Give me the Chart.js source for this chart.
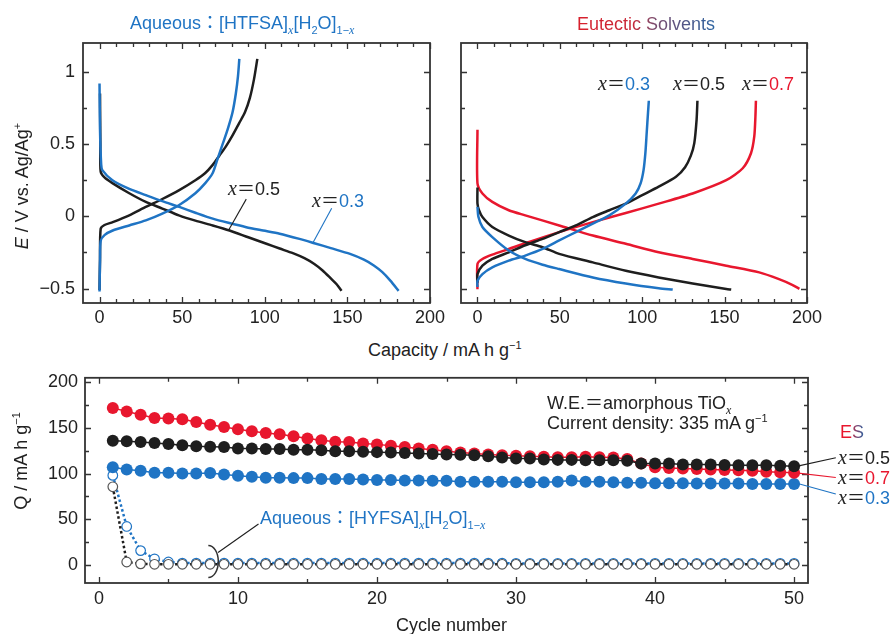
<!DOCTYPE html>
<html>
<head>
<meta charset="utf-8">
<script src="https://cdn.jsdelivr.net/npm/chart.js@4.4.1/dist/chart.umd.min.js"></script>
<style>
  body { margin: 0; background: #fff; }
  #wrap { position: relative; width: 894px; height: 634px; overflow: hidden; font-family: "Liberation Sans", Arial, sans-serif; color: #222; }
  canvas { position: absolute; }
  .t { position: absolute; white-space: nowrap; font-size: 18px; line-height: 1; transform: translateY(-50%); }
  .rot { transform: translate(-50%, -50%) rotate(-90deg); }
  .v { font-family: "Liberation Serif", serif; font-style: italic; font-size: 20px; }
  .eq { font-family: "Noto Sans CJK JP", sans-serif; }
  .sub { font-size: 11px; position: relative; top: 5px; }
  .sup { font-size: 11px; position: relative; top: -7px; }
  .sv { font-family: "Liberation Serif", serif; font-style: italic; font-size: 12px; }
  .blue { color: #1f74c4; }
  .red { color: #e8172e; }
  .es { background: linear-gradient(90deg, #d8202c 0%, #c82838 40%, #7a4a6c 56%, #2a62a0 100%);
        -webkit-background-clip: text; background-clip: text; color: transparent; }
  .es2 { background: linear-gradient(90deg, #b03050 0%, #2a62a0 100%);
        -webkit-background-clip: text; background-clip: text; color: transparent; }
</style>
</head>
<body>
<div id="wrap">
  <canvas id="capL" width="450" height="335" style="left:0;top:0"></canvas>
  <canvas id="capR" width="444" height="335" style="left:450px;top:0"></canvas>
  <canvas id="cyc" width="894" height="274" style="left:0;top:360px"></canvas>

  <div class="t blue" style="left:130px;top:22px">Aqueous<span class="eq">：</span>[HTFSA]<span class="sub sv">x</span>[H<span class="sub">2</span>O]<span class="sub">1−<span class="sv">x</span></span></div>
  <div class="t es" style="left:577px;top:24px">Eutectic Solvents</div>

  <div class="t" style="left:228px;top:188px"><span class="v">x</span><span class="eq">＝</span>0.5</div>
  <div class="t" style="left:312px;top:200px"><span class="v">x</span><span class="eq">＝</span><span class="blue">0.3</span></div>
  <div class="t" style="left:598px;top:83px"><span class="v">x</span><span class="eq">＝</span><span class="blue">0.3</span></div>
  <div class="t" style="left:673px;top:83px"><span class="v">x</span><span class="eq">＝</span>0.5</div>
  <div class="t" style="left:742px;top:83px"><span class="v">x</span><span class="eq">＝</span><span class="red">0.7</span></div>

  <div class="t rot" style="left:22px;top:186px"><i>E</i> / V vs. Ag/Ag<span class="sup">+</span></div>
  <div class="t" style="left:368px;top:350px">Capacity / mA h g<span class="sup">−1</span></div>

  <div class="t rot" style="left:21px;top:461px">Q / mA h g<span class="sup">−1</span></div>
  <div class="t" style="left:396px;top:625px">Cycle number</div>

  <div class="t" style="left:547px;top:402px">W.E.<span class="eq">＝</span>amorphous TiO<span class="sub sv">x</span></div>
  <div class="t" style="left:547px;top:423px">Current density: 335 mA g<span class="sup">−1</span></div>
  <div class="t blue" style="left:260px;top:517px">Aqueous<span class="eq">：</span>[HYFSA]<span class="sub sv">x</span>[H<span class="sub">2</span>O]<span class="sub">1−<span class="sv">x</span></span></div>

  <div class="t" style="left:840px;top:432px"><span class="red">E</span><span class="es2">S</span></div>
  <div class="t" style="left:838px;top:457px"><span class="v">x</span><span class="eq">＝</span>0.5</div>
  <div class="t" style="left:838px;top:477px"><span class="v">x</span><span class="eq">＝</span><span class="red">0.7</span></div>
  <div class="t" style="left:838px;top:497px"><span class="v">x</span><span class="eq">＝</span><span class="blue">0.3</span></div>
</div>

<script>
// Colours
const BLUE = '#1f74c4';
const RED = '#e8172e';
const BLACK = '#1e1e1e';

// --- Top left: aqueous [HTFSA]x[H2O]1-x (capacity / mA h g-1, E / V)
const aq03ChgCap = [0, 0.3, 0.7, 3, 8, 18, 28, 38, 48, 58, 64, 68.5, 71.5, 74.5, 77.5, 80.5, 82.5, 83.8, 84.6];
const aq03ChgE   = [-0.52, -0.3, -0.17, -0.13, -0.098, -0.063, -0.028, 0.019, 0.077, 0.16, 0.23, 0.30, 0.40, 0.50, 0.60, 0.72, 0.85, 0.97, 1.09];
const aq03DisCap = [0, 0.3, 1, 1.7, 7.8, 18, 28, 38, 48.3, 58, 68.5, 78, 88.8, 99, 109, 121, 130, 140, 151.6, 160, 166, 171, 176, 181];
const aq03DisE   = [0.92, 0.6, 0.36, 0.32, 0.25, 0.19, 0.147, 0.105, 0.065, 0.025, -0.016, -0.045, -0.075, -0.098, -0.12, -0.156, -0.186, -0.22, -0.26, -0.30, -0.34, -0.385, -0.445, -0.516];
const aq05ChgCap = [0, 0.3, 0.7, 3, 8, 18, 28, 38, 48, 58, 64, 68.5, 72.5, 76.5, 80.5, 84.5, 88, 91, 93.5, 95.5];
const aq05ChgE   = [-0.51, -0.3, -0.086, -0.06, -0.04, 0.007, 0.065, 0.12, 0.18, 0.25, 0.30, 0.356, 0.42, 0.484, 0.56, 0.645, 0.72, 0.82, 0.95, 1.09];
const aq05DisCap = [0.3, 0.5, 0.7, 3, 7.8, 18, 28, 38, 48, 58, 68.5, 78.7, 90, 101, 109, 117, 124, 130, 135, 140, 143.5, 146.5];
const aq05DisE   = [0.85, 0.5, 0.31, 0.27, 0.23, 0.16, 0.10, 0.054, 0.007, -0.03, -0.063, -0.098, -0.145, -0.19, -0.223, -0.255, -0.29, -0.33, -0.375, -0.43, -0.47, -0.516];

// --- Top right: eutectic solvents
const es03ChgCap = [0, 0, 3, 9, 19, 29, 39.5, 49.6, 59.7, 70, 80, 90, 96, 99, 100.8, 101.9, 102.7, 103.5, 104];
const es03ChgE   = [-0.49, -0.447, -0.4, -0.353, -0.307, -0.272, -0.226, -0.167, -0.109, -0.051, 0.007, 0.088, 0.158, 0.228, 0.32, 0.437, 0.577, 0.716, 0.80];
const es03DisCap = [0, 0.6, 3, 9, 19, 29, 39.5, 49.6, 70, 90, 110, 118.5];
const es03DisE   = [0.065, -0.005, -0.074, -0.144, -0.237, -0.295, -0.335, -0.365, -0.423, -0.465, -0.498, -0.507];
const es05ChgCap = [0, 0, 3, 9, 19, 29, 39.5, 49.6, 59.7, 70, 80, 90, 100, 110, 120.5, 126, 129.5, 131.6, 133, 133.5];
const es05ChgE   = [-0.46, -0.4, -0.342, -0.295, -0.249, -0.2, -0.156, -0.109, -0.063, -0.005, 0.042, 0.088, 0.147, 0.205, 0.274, 0.34, 0.42, 0.507, 0.67, 0.80];
const es05DisCap = [0, 0, 1, 3, 9, 19, 29, 39.5, 49.6, 70, 90, 110, 130.6, 151, 154];
const es05DisE   = [0.2, 0.088, 0.04, -0.005, -0.074, -0.133, -0.179, -0.214, -0.26, -0.319, -0.377, -0.423, -0.465, -0.503, -0.507];
const es07ChgCap = [0, 0, 3, 9, 19, 29, 49.6, 70, 90, 110, 130.6, 151, 161, 166, 168, 168.7, 169];
const es07ChgE   = [-0.505, -0.33, -0.295, -0.265, -0.226, -0.186, -0.109, -0.04, 0.023, 0.088, 0.158, 0.25, 0.333, 0.437, 0.553, 0.693, 0.80];
const es07DisCap = [0, 0, 3, 9, 19, 29, 49.6, 70, 90, 110, 130.6, 151, 171, 183, 191, 195.4];
const es07DisE   = [0.6, 0.228, 0.158, 0.1, 0.042, 0.007, -0.063, -0.133, -0.19, -0.249, -0.295, -0.342, -0.388, -0.435, -0.474, -0.502];

// Ticks, top panels
const capTicks = [0, 50, 100, 150, 200];
const capMinor = [10, 20, 30, 40, 60, 70, 80, 90, 110, 120, 130, 140, 160, 170, 180, 190];
const eTicks = [-0.5, 0, 0.5, 1];
const eMinor = [-0.25, 0.25, 0.75];

// --- Bottom: cycling, Q / mA h g-1
const cycles = [1, 2, 3, 4, 5, 6, 7, 8, 9, 10, 11, 12, 13, 14, 15, 16, 17, 18, 19, 20, 21, 22, 23, 24, 25,
                26, 27, 28, 29, 30, 31, 32, 33, 34, 35, 36, 37, 38, 39, 40, 41, 42, 43, 44, 45, 46, 47, 48, 49, 50];
const qEs07 = [172, 168, 164.5, 161, 160.5, 159.5, 156.5, 153.5, 151, 148.5, 146.5, 144.5, 143, 141, 138.5, 136.5, 135, 134.5, 133, 132, 130.5, 129, 127.5, 126, 124.5,
               123, 122, 121, 120, 119.5, 119, 118.5, 118, 118, 118.5, 118, 117.5, 116, 111, 107, 106, 105.5, 105, 104.5, 104, 103.5, 103, 102, 101.5, 101];
const qEs05 = [136, 135.5, 134.5, 133.5, 132.5, 131, 130, 129.5, 129, 127.5, 127.5, 127, 127, 126, 126, 125.5, 124.5, 124.5, 124, 123.5, 123, 122.5, 122, 121.5, 121,
               120.5, 120, 119, 117.5, 116.5, 116.5, 115.5, 115, 115, 114.5, 114.5, 114.5, 114, 111, 111, 111, 110, 110, 110, 109.5, 109, 109, 109, 108.5, 108];
const qEs03 = [107, 104.5, 103, 101, 101, 100, 100, 100.5, 99, 97.5, 96.5, 95.5, 95.5, 95, 95, 94, 94, 94, 93.5, 93, 93, 92.5, 92.5, 92, 92,
               91, 91, 91, 91, 90.5, 90.5, 90.5, 91, 92.5, 91, 91, 90.5, 90, 90, 89.5, 89.5, 89.5, 89, 89, 89, 89, 88.5, 88.5, 88.5, 88.5];
const qAq05 = [85.5, 3, 1, 0.5, 0.5, 0.5, 0.5, 0.5, 0.5, 0.5, 0.5, 0.5, 0.5, 0.5, 0.5, 0.5, 0.5, 0.5, 0.5, 0.5, 0.5, 0.5, 0.5, 0.5, 0.5,
               0.5, 0.5, 0.5, 0.5, 0.5, 0.5, 0.5, 0.5, 0.5, 0.5, 0.5, 0.5, 0.5, 0.5, 0.5, 0.5, 0.5, 0.5, 0.5, 0.5, 0.5, 0.5, 0.5, 0.5, 0.5];
const qAq03 = [98, 42, 15.5, 6.5, 3, 1.8, 1.8, 1.8, 1.8, 1.8, 1.8, 1.8, 1.8, 1.8, 1.8, 1.8, 1.8, 1.8, 1.8, 1.8, 1.8, 1.8, 1.8, 1.8, 1.8,
               1.8, 1.8, 1.8, 1.8, 1.5, 1.5, 1.5, 1.5, 1.5, 1.5, 1.5, 1.5, 1.5, 1.5, 1.5, 1.5, 1.5, 1.5, 1.5, 1.5, 1.5, 1.5, 1.5, 1.5, 1.5];
const cycTicks = [0, 10, 20, 30, 40, 50];
const cycMinor = [5, 15, 25, 35, 45];
const qTicks = [0, 50, 100, 150, 200];
const qMinor = [25, 75, 125, 175];

Chart.defaults.font.family = '"Liberation Sans", Arial, sans-serif';
Chart.defaults.font.size = 18;
Chart.defaults.color = '#222';
Chart.defaults.animation = false;

const minus = v => String(v).replace('-', '\u2212');

// frame, inward ticks, leader lines
const boxPlugin = {
  id: 'box',
  afterDatasetsDraw(chart, args, o) {
    const { ctx, chartArea: a } = chart;
    const xs = chart.scales.x, ys = chart.scales.y;
    ctx.save();
    ctx.strokeStyle = '#333';
    ctx.lineWidth = 1.3;
    const xMarks = (vals, len) => vals.forEach(v => {
      const p = Math.round(xs.getPixelForValue(v)) + 0.5;
      ctx.beginPath();
      ctx.moveTo(p, a.bottom); ctx.lineTo(p, a.bottom - len);
      ctx.moveTo(p, a.top); ctx.lineTo(p, a.top + len);
      ctx.stroke();
    });
    const yMarks = (vals, len) => vals.forEach(v => {
      const p = Math.round(ys.getPixelForValue(v)) + 0.5;
      ctx.beginPath();
      ctx.moveTo(a.left, p); ctx.lineTo(a.left + len, p);
      ctx.moveTo(a.right, p); ctx.lineTo(a.right - len, p);
      ctx.stroke();
    });
    xMarks(o.xMajor, 6); xMarks(o.xMinor, 4);
    yMarks(o.yMajor, 6); yMarks(o.yMinor, 4);
    ctx.lineWidth = 1.8;
    ctx.strokeRect(a.left, a.top, a.right - a.left, a.bottom - a.top);

    (o.leaders || []).forEach(l => {
      ctx.strokeStyle = l.color;
      ctx.lineWidth = 1.1;
      ctx.beginPath();
      ctx.moveTo(xs.getPixelForValue(l.from[0]), ys.getPixelForValue(l.from[1]));
      ctx.lineTo(xs.getPixelForValue(l.to[0]), ys.getPixelForValue(l.to[1]));
      ctx.stroke();
    });
    if (o.arc) {
      ctx.strokeStyle = '#333';
      ctx.lineWidth = 1.5;
      ctx.beginPath();
      ctx.ellipse(xs.getPixelForValue(o.arc.at[0]), ys.getPixelForValue(o.arc.at[1]), o.arc.rx, o.arc.ry, 0, -Math.PI / 2, Math.PI / 2);
      ctx.stroke();
    }
    ctx.restore();
  }
};

function curve(cap, e, color) {
  return {
    data: cap.map((x, i) => ({ x, y: e[i] })),
    borderColor: color, borderWidth: 2.5, pointRadius: 0, tension: 0.25, fill: false
  };
}

const hiddenGrid = { display: false, drawTicks: false };

function capacityScales(yWidth) {
  return {
    x: {
      type: 'linear', min: -10, max: 200,
      grid: hiddenGrid, border: { display: false },
      afterBuildTicks: s => { s.ticks = capTicks.map(value => ({ value })); },
      ticks: { padding: 4, autoSkip: false, maxRotation: 0 },
      afterFit: s => { s.height = 32; }
    },
    y: {
      type: 'linear', min: -0.6, max: 1.2,
      grid: hiddenGrid, border: { display: false },
      afterBuildTicks: s => { s.ticks = eTicks.map(value => ({ value })); },
      ticks: { display: yWidth > 0, padding: 8, autoSkip: false, callback: minus },
      afterFit: s => { s.width = yWidth; }
    }
  };
}

new Chart(document.getElementById('capL'), {
  type: 'line',
  data: {
    datasets: [
      curve(aq03ChgCap, aq03ChgE, BLUE),
      curve(aq03DisCap, aq03DisE, BLUE),
      curve(aq05ChgCap, aq05ChgE, BLACK),
      curve(aq05DisCap, aq05DisE, BLACK)
    ]
  },
  options: {
    responsive: false,
    layout: { padding: { top: 43, right: 20, left: 0, bottom: 0 } },
    plugins: {
      legend: { display: false }, tooltip: { enabled: false },
      box: {
        xMajor: capTicks, xMinor: capMinor, yMajor: eTicks, yMinor: eMinor,
        leaders: [
          { from: [88.8, 0.119], to: [78, -0.098], color: BLACK },
          { from: [140.5, 0.056], to: [129, -0.186], color: BLUE }
        ]
      }
    },
    scales: capacityScales(83)
  },
  plugins: [boxPlugin]
});

new Chart(document.getElementById('capR'), {
  type: 'line',
  data: {
    datasets: [
      curve(es03ChgCap, es03ChgE, BLUE),
      curve(es03DisCap, es03DisE, BLUE),
      curve(es05ChgCap, es05ChgE, BLACK),
      curve(es05DisCap, es05DisE, BLACK),
      curve(es07ChgCap, es07ChgE, RED),
      curve(es07DisCap, es07DisE, RED)
    ]
  },
  options: {
    responsive: false,
    layout: { padding: { top: 43, right: 87, left: 11, bottom: 0 } },
    plugins: {
      legend: { display: false }, tooltip: { enabled: false },
      box: { xMajor: capTicks, xMinor: capMinor, yMajor: eTicks, yMinor: eMinor }
    },
    scales: capacityScales(0)
  },
  plugins: [boxPlugin]
});

function filled(q, color) {
  return {
    data: cycles.map((x, i) => ({ x, y: q[i] })),
    borderColor: color, borderWidth: 1.5, backgroundColor: color,
    pointRadius: 6, pointBorderWidth: 0, pointBackgroundColor: color, tension: 0
  };
}
function open(q, color, edge) {
  return {
    data: cycles.map((x, i) => ({ x, y: q[i] })),
    borderColor: color, borderWidth: 2.5, borderDash: [2.5, 2.5],
    pointRadius: 4.8, pointBorderWidth: 1.2, pointBorderColor: edge, pointBackgroundColor: '#fff', tension: 0
  };
}

new Chart(document.getElementById('cyc'), {
  type: 'line',
  data: {
    // first dataset is painted last (on top)
    datasets: [
      filled(qEs05, BLACK),
      filled(qEs07, RED),
      filled(qEs03, BLUE),
      open(qAq05, BLACK, '#555'),
      open(qAq03, BLUE, BLUE)
    ]
  },
  options: {
    responsive: false,
    layout: { padding: { top: 16, right: 86, left: 0, bottom: 0 } },
    plugins: {
      legend: { display: false }, tooltip: { enabled: false },
      box: {
        xMajor: cycTicks, xMinor: cycMinor, yMajor: qTicks, yMinor: qMinor,
        leaders: [
          { from: [8.57, 13.4], to: [11.48, 44.7], color: BLACK },
          { from: [50, 107.3], to: [53, 117.4], color: BLACK },
          { from: [50, 101], to: [53, 95.6], color: RED },
          { from: [50, 90.1], to: [53, 77.5], color: BLUE }
        ],
        arc: { at: [7.87, 3.6], rx: 10, ry: 16 }
      }
    },
    scales: {
      x: {
        type: 'linear', min: -1, max: 51,
        grid: hiddenGrid, border: { display: false },
        afterBuildTicks: s => { s.ticks = cycTicks.map(value => ({ value })); },
        ticks: { padding: 5, autoSkip: false, maxRotation: 0 },
        afterFit: s => { s.height = 51; }
      },
      y: {
        type: 'linear', min: -20, max: 205,
        grid: hiddenGrid, border: { display: false },
        afterBuildTicks: s => { s.ticks = qTicks.map(value => ({ value })); },
        ticks: { padding: 7, autoSkip: false },
        afterFit: s => { s.width = 85; }
      }
    }
  },
  plugins: [boxPlugin]
});
</script>
</body>
</html>
